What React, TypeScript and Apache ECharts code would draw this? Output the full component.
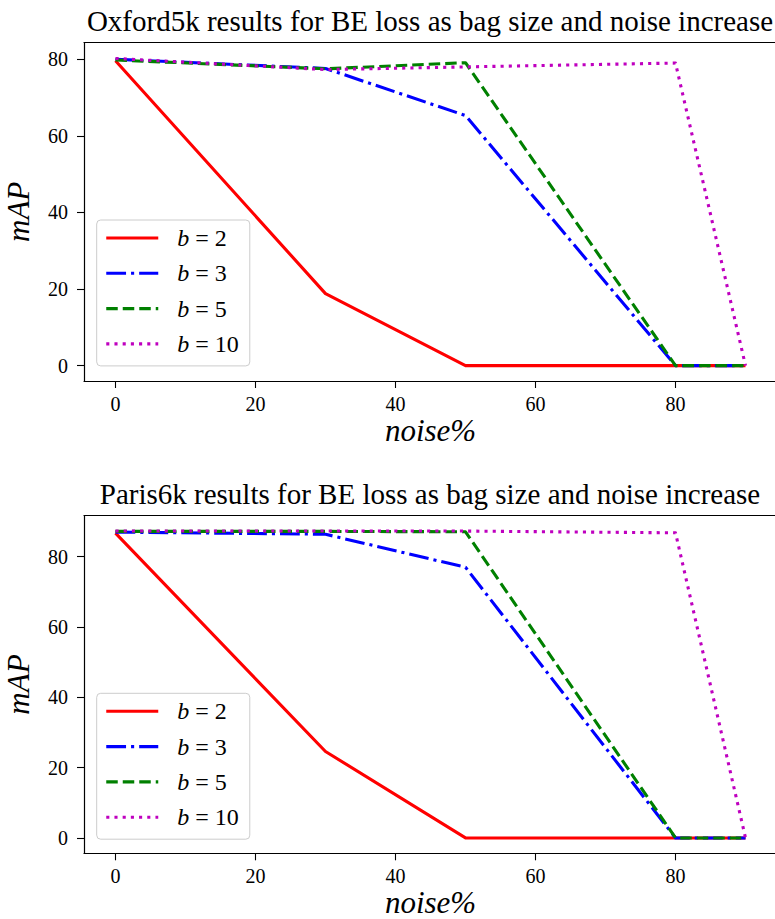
import React, { useEffect, useRef } from 'react';
import * as echarts from 'echarts';

const noise = [0, 30, 50, 80, 90];

const oxfordB2 = [79.6, 18.8, 0, 0, 0];
const oxfordB3 = [80.0, 77.6, 65.3, 0, 0];
const oxfordB5 = [79.8, 77.5, 79.1, 0, 0];
const oxfordB10 = [80.2, 77.3, 78.0, 79.0, 0];

const parisB2 = [86.7, 24.6, 0, 0, 0];
const parisB3 = [87.0, 86.4, 77.0, 0, 0];
const parisB5 = [87.2, 87.2, 87.1, 0, 0];
const parisB10 = [87.3, 87.3, 87.3, 86.8, 0];

const xTicks = [0, 20, 40, 60, 80];
const yTicks = [0, 20, 40, 60, 80];
const seriesNames = ['b = 2', 'b = 3', 'b = 5', 'b = 10'];
const titles = [
  'Oxford5k results for BE loss as bag size and noise increase',
  'Paris6k results for BE loss as bag size and noise increase',
];
const xLabel = 'noise%';
const yLabel = 'mAP';

const FONT = 'Liberation Serif';
const colors = ['#ff0000', '#0000ff', '#008000', '#bf00bf'];
const dashes: any[] = ['solid', [19.8, 5, 3.1, 5], [11.5, 5], [3.1, 5.1]];

export default function App() {
  const ref = useRef<HTMLDivElement>(null);
  useEffect(() => {
    const chart = echarts.init(ref.current!, null, { renderer: 'svg' });
    const plots = [
      { data: [oxfordB2, oxfordB3, oxfordB5, oxfordB10], top: 42.7, height: 338.3, ymin: -4.02, ymax: 84.32, titleTop: 6, legendTop: 220 },
      { data: [parisB2, parisB3, parisB5, parisB10], top: 515.7, height: 337.6, ymin: -4.37, ymax: 91.67, titleTop: 479, legendTop: 693.3 },
    ];
    const grid: any[] = [];
    const xAxis: any[] = [];
    const yAxis: any[] = [];
    const series: any[] = [];
    const title: any[] = [];
    const legend: any[] = [];
    plots.forEach((p, gi) => {
      grid.push({
        left: 84, top: p.top, width: 693, height: p.height, show: false,
        containLabel: false, outerBoundsMode: 'none',
      });
      // bottom axis (with ticks, labels, name)
      xAxis.push({
        type: 'value', gridIndex: gi, min: -4.5, max: 94.5, position: 'bottom',
        axisLine: { show: true, onZero: false, lineStyle: { color: '#000', width: 1.2 } },
        axisTick: { show: true, length: 7, customValues: xTicks, lineStyle: { color: '#000', width: 1.1 } },
        axisLabel: { customValues: xTicks, fontFamily: FONT, fontSize: 20, color: '#000', margin: 13 },
        splitLine: { show: false },
        name: xLabel, nameLocation: 'middle', nameGap: 34,
        nameTextStyle: { fontFamily: FONT, fontStyle: 'italic', fontSize: 31, color: '#000' },
      });
      // top spine only
      xAxis.push({
        type: 'value', gridIndex: gi, min: -4.5, max: 94.5, position: 'top',
        axisLine: { show: true, onZero: false, lineStyle: { color: '#000', width: 1.2 } },
        axisTick: { show: false }, axisLabel: { show: false }, splitLine: { show: false },
      });
      yAxis.push({
        type: 'value', gridIndex: gi, min: p.ymin, max: p.ymax,
        axisLine: { show: true, onZero: false, lineStyle: { color: '#000', width: 1.2 } },
        axisTick: { show: true, length: 7, customValues: yTicks, lineStyle: { color: '#000', width: 1.1 } },
        axisLabel: { customValues: yTicks, fontFamily: FONT, fontSize: 20, color: '#000', margin: 16 },
        splitLine: { show: false },
        name: yLabel, nameLocation: 'middle', nameGap: 50, nameRotate: 90,
        nameTextStyle: { fontFamily: FONT, fontStyle: 'italic', fontSize: 31, color: '#000' },
      });
      p.data.forEach((vals, si) => {
        series.push({
          type: 'line', name: seriesNames[si], xAxisIndex: gi * 2, yAxisIndex: gi,
          data: noise.map((x, i) => [x, vals[i]]),
          symbol: 'none', showSymbol: false,
          lineStyle: { color: colors[si], width: 3.1, type: dashes[si], cap: 'butt', join: 'round' },
          itemStyle: { color: colors[si] },
          emphasis: { disabled: true },
        });
      });
      title.push({
        text: titles[gi], left: 430, top: p.titleTop, textAlign: 'center', padding: 0,
        textStyle: { fontFamily: FONT, fontWeight: 'normal', fontSize: 29, color: '#000' },
      });
      legend.push({
        orient: 'vertical', left: 96.7, top: p.legendTop, data: seriesNames,
        itemWidth: 52, itemHeight: 24, itemGap: 11.3, padding: [6, 11, 10, 8],
        backgroundColor: 'rgba(255,255,255,0.8)', borderColor: '#cccccc', borderWidth: 1, borderRadius: 4,
        selectedMode: false,
        itemStyle: { opacity: 0 },
        lineStyle: { width: 3.1 },
        formatter: (name: string) => `{i|b}{n|${name.slice(1)}}`,
        textStyle: {
          fontFamily: FONT, fontSize: 24, color: '#000', lineHeight: 24, padding: [0, 0, 0, 14],
          rich: {
            i: { fontFamily: FONT, fontStyle: 'italic', fontSize: 24, color: '#000', lineHeight: 24 },
            n: { fontFamily: FONT, fontSize: 24, color: '#000', lineHeight: 24 },
          },
        },
      });
    });
    chart.setOption({ animation: false, backgroundColor: '#fff', textStyle: { fontFamily: FONT }, title, grid, xAxis, yAxis, legend, series });
    return () => chart.dispose();
  }, []);
  return <div ref={ref} style={{ position: 'absolute', left: 0, top: 0, width: 775, height: 919 }} />;
}
